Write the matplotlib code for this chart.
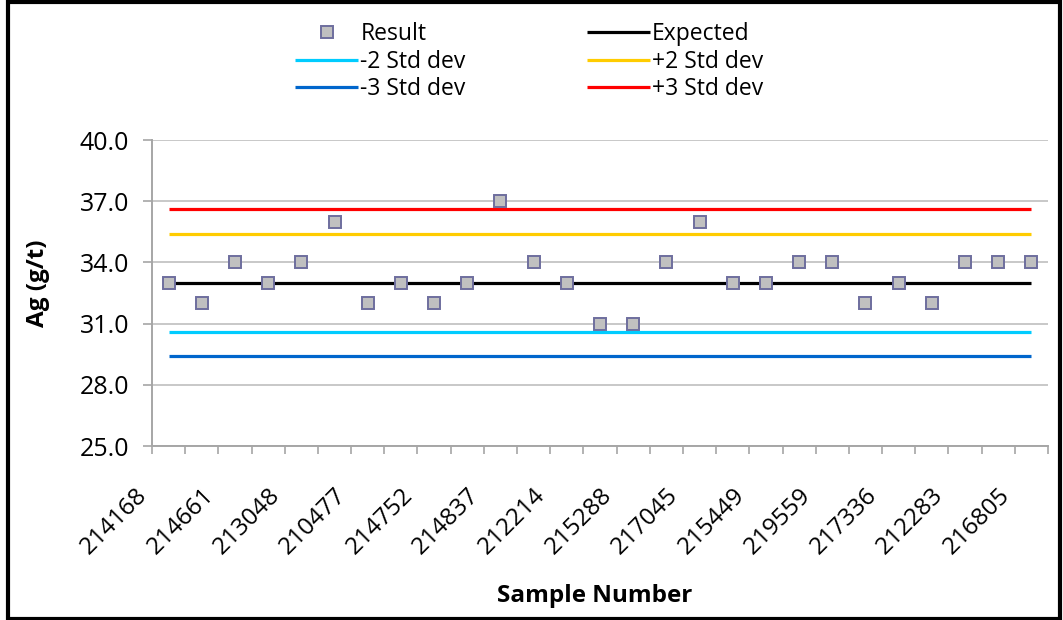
import matplotlib
matplotlib.use("Agg")
import matplotlib.pyplot as plt
from matplotlib.patches import Rectangle
import numpy as np

plt.rcParams['font.family'] = ['Open Sans', 'DejaVu Sans']

# ---- data ----
results = [33, 32, 34, 33, 34, 36, 32, 33, 32, 33, 37, 34, 33, 31, 31,
           34, 36, 33, 33, 34, 34, 32, 33, 32, 34, 34, 34]
tick_labels = ["214168", "214661", "213048", "210477", "214752", "214837",
               "212214", "215288", "217045", "215449", "219559", "217336",
               "212283", "216805"]
expected = 33.0
minus2 = 30.6
plus2 = 35.4
minus3 = 29.4
plus3 = 36.6
y_ticks = [25.0, 28.0, 31.0, 34.0, 37.0, 40.0]

n = len(results)
x = np.arange(n)

fig = plt.figure(figsize=(10.63, 6.2), dpi=100)
ax = fig.add_axes([152/1063, (620-446)/620, 896/1063, 306/620])

lw = 2.3
l_m3, = ax.plot(x, [minus3]*n, color="#0066CC", lw=lw, zorder=3, solid_capstyle='butt')
l_m2, = ax.plot(x, [minus2]*n, color="#00CCFF", lw=lw, zorder=3, solid_capstyle='butt')
l_p2, = ax.plot(x, [plus2]*n, color="#FFCC00", lw=lw, zorder=3, solid_capstyle='butt')
l_p3, = ax.plot(x, [plus3]*n, color="#FF0000", lw=lw, zorder=3, solid_capstyle='butt')
l_ex, = ax.plot(x, [expected]*n, color="#000000", lw=lw, zorder=3, solid_capstyle='butt')
pts, = ax.plot(x, results, linestyle='none', marker='s', markersize=8.5,
               markerfacecolor="#C0C0C0", markeredgecolor="#6E6E9E",
               markeredgewidth=1.4, zorder=5)

ax.set_xlim(-0.5, n - 0.5)
ax.set_ylim(25, 40)
ax.set_yticks(y_ticks)
ax.set_yticklabels([f"{v:.1f}" for v in y_ticks])
ax.yaxis.grid(True, color="#BFBFBF", lw=1.2)
ax.set_axisbelow(True)

# category boundaries carry the tick marks; labels on every other category
ax.set_xticks(np.arange(-0.5, n, 1.0))
ax.set_xticklabels([])
ax.tick_params(axis='x', length=6, color="#A6A6A6", width=1.2)
ax.tick_params(axis='y', length=6.5, color="#A6A6A6", width=1.2, labelsize=18, pad=10)
for xi, lab in zip(x[::2], tick_labels):
    ax.annotate(lab, xy=(xi, 0), xycoords=('data', 'axes fraction'),
                xytext=(-25, -46), textcoords='offset pixels',
                rotation=45, ha='right', va='center', rotation_mode='anchor',
                fontsize=17.5, annotation_clip=False)

for s in ['top', 'right']:
    ax.spines[s].set_visible(False)
for s in ['left', 'bottom']:
    ax.spines[s].set_color("#A6A6A6")
    ax.spines[s].set_linewidth(1.4)

fig.text(595/1063, 1 - 596/620, "Sample Number", fontsize=17.5, fontweight='bold',
         ha='center', va='center')
fig.text(38/1063, 1 - 283/620, "Ag (g/t)", fontsize=17.5, fontweight='bold',
         ha='center', va='center', rotation=90)

handles = [pts, l_m2, l_m3, l_ex, l_p2, l_p3]
labels = ["Result", "-2 Std dev", "-3 Std dev", "Expected", "+2 Std dev", "+3 Std dev"]
leg = fig.legend(handles, labels, ncol=2, loc='upper left',
                 bbox_to_anchor=(295/1063, 1 - 22/620), frameon=False,
                 fontsize=16.5, handlelength=2.75, handletextpad=0.1,
                 columnspacing=5.28, labelspacing=0.16, borderaxespad=0,
                 borderpad=0, markerscale=1.0)

fig.patches.append(Rectangle((8/1063, 1/620), 1052/1063, 617/620, transform=fig.transFigure,
                             fill=False, edgecolor='black', lw=3))

fig.savefig("out.png", dpi=100)
